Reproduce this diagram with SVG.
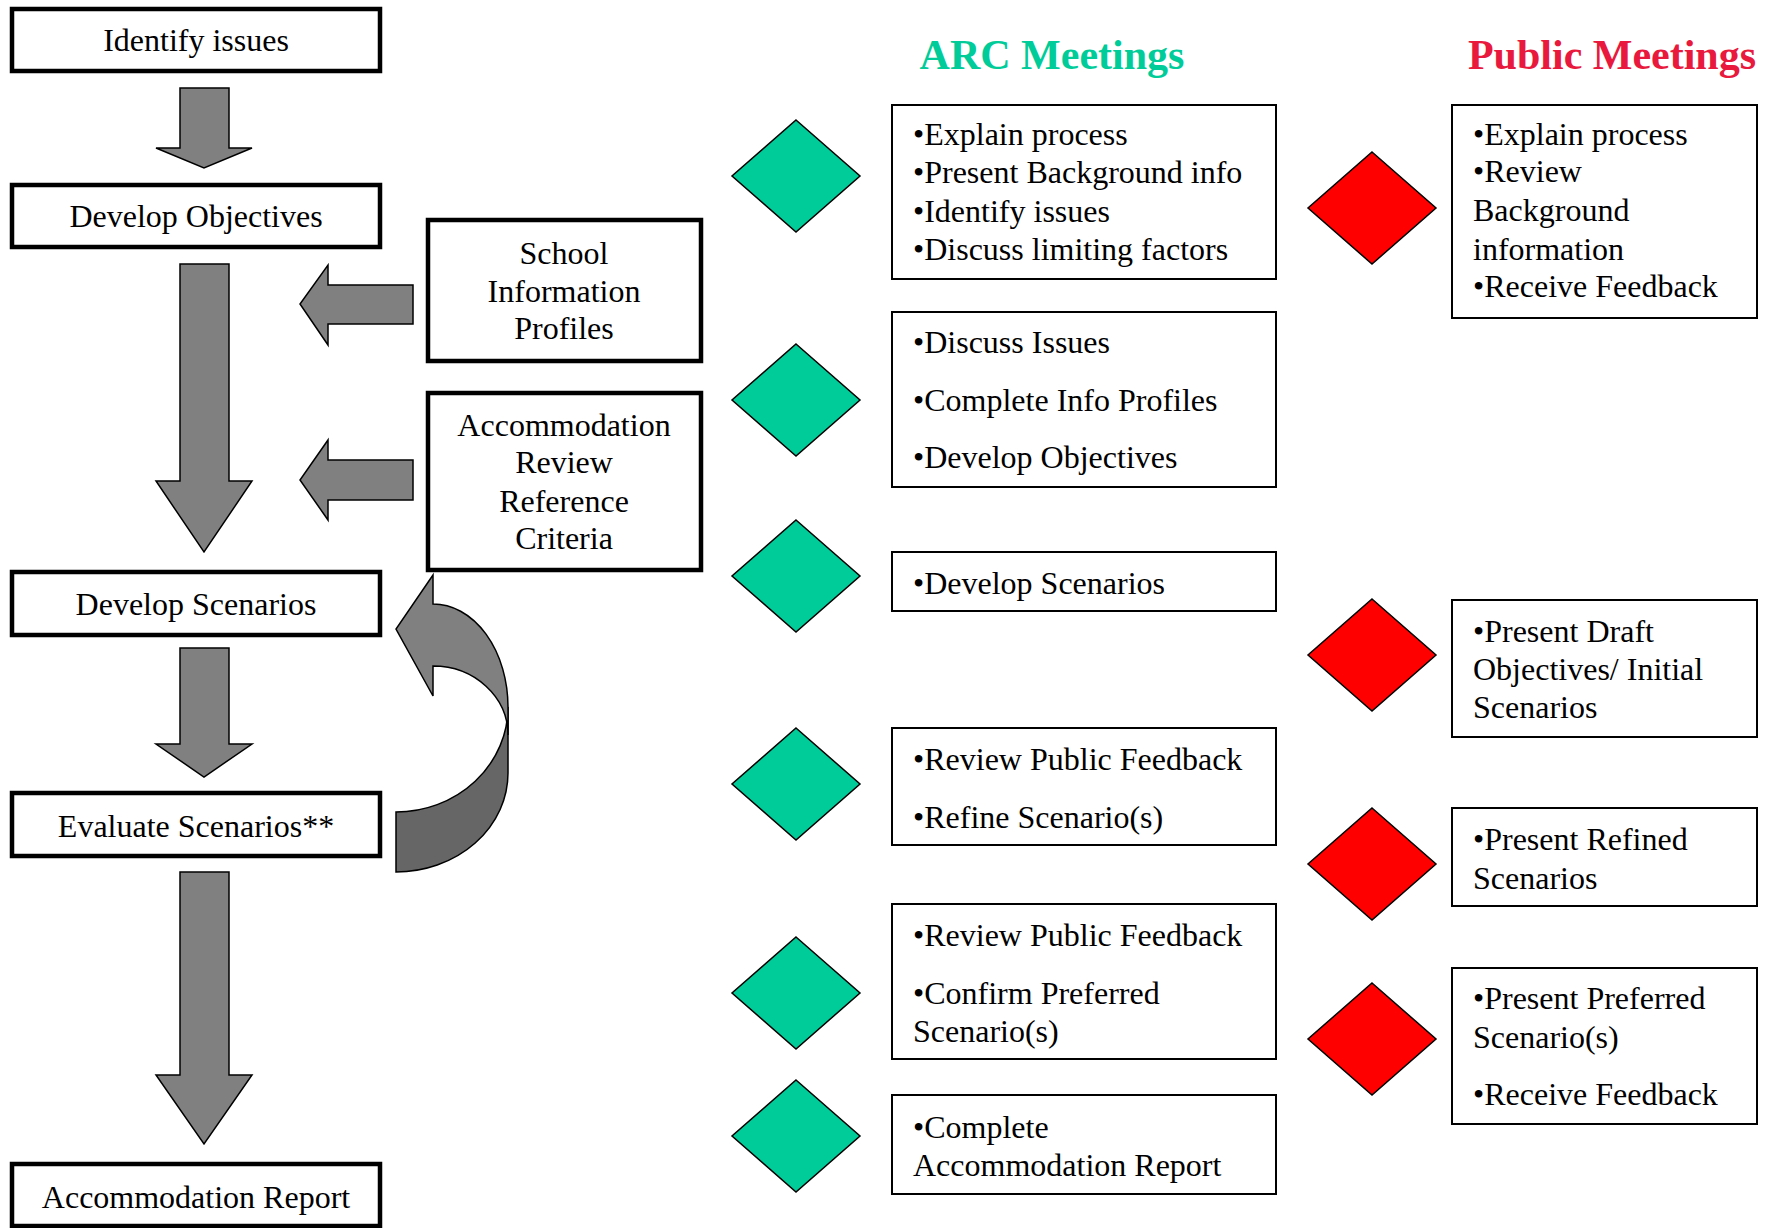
<svg xmlns="http://www.w3.org/2000/svg" width="1769" height="1228" viewBox="0 0 1769 1228">
<style>
  .lbox { fill: #fff; stroke: #000; stroke-width: 4.5; }
  .rbox { fill: #fff; stroke: #000; stroke-width: 2; }
  .t { font-family: "Liberation Serif", "Times New Roman", serif; font-size: 32px; fill: #000; }
  .c { text-anchor: middle; }
  .arrow { fill: #808080; stroke: #000; stroke-width: 1.5; stroke-linejoin: miter; }
  .dark { fill: #666666; stroke: #000; stroke-width: 1.5; }
  .green { fill: #00CC99; stroke: #000; stroke-width: 1.5; }
  .red { fill: #FF0000; stroke: #000; stroke-width: 1.5; }
  .title { font-family: "Liberation Serif", "Times New Roman", serif; font-size: 42px; font-weight: bold; text-anchor: middle; }
</style>
<rect width="1769" height="1228" fill="#fff"/>

<!-- Connectors -->
<g id="connectors">
  <path class="arrow" d="M180,88 H229 V148 H252 L204,168 L156,148 H180 Z"/>
  <path class="arrow" d="M180,264 H229 V481 H252 L204,552 L156,481 H180 Z"/>
  <path class="arrow" d="M180,648 H229 V744 H252 L204,777 L156,744 H180 Z"/>
  <path class="arrow" d="M180,872 H229 V1075 H252 L204,1144 L156,1075 H180 Z"/>
  <path class="arrow" d="M413,285 V324 H328 V345 L300,304 L328,265 V285 Z"/>
  <path class="arrow" d="M413,460 V500 H328 V520 L300,480 L328,440 V460 Z"/>
  <path class="dark" d="M396,812 A112,105 0 0 0 508,707 L508,773 A112,99 0 0 1 396,872 Z"/>
  <path class="arrow" d="M433,575 L396,629 L433,696 L433,666 A75,69 0 0 1 508,735 L508,707 A75,103 0 0 0 433,604 Z"/>
</g>

<!-- Left flow -->
<g id="identify-issues">
  <rect class="lbox" x="12" y="9" width="368" height="62"/>
  <text class="t c" x="196" y="51">Identify issues</text>
</g>
<g id="develop-objectives">
  <rect class="lbox" x="12" y="185" width="368" height="62"/>
  <text class="t c" x="196" y="227">Develop Objectives</text>
</g>
<g id="develop-scenarios">
  <rect class="lbox" x="12" y="572" width="368" height="63"/>
  <text class="t c" x="196" y="615">Develop Scenarios</text>
</g>
<g id="evaluate-scenarios">
  <rect class="lbox" x="12" y="793" width="368" height="63"/>
  <text class="t c" x="196" y="837">Evaluate Scenarios**</text>
</g>
<g id="accommodation-report">
  <rect class="lbox" x="12" y="1164" width="368" height="62"/>
  <text class="t c" x="196" y="1208">Accommodation Report</text>
</g>
<g id="school-info">
  <rect class="lbox" x="428" y="220" width="273" height="141"/>
  <text class="t c" x="564" y="264">School</text>
  <text class="t c" x="564" y="302">Information</text>
  <text class="t c" x="564" y="339">Profiles</text>
</g>
<g id="arrc">
  <rect class="lbox" x="428" y="393" width="273" height="177"/>
  <text class="t c" x="564" y="436">Accommodation</text>
  <text class="t c" x="564" y="473">Review</text>
  <text class="t c" x="564" y="512">Reference</text>
  <text class="t c" x="564" y="549">Criteria</text>
</g>

<!-- Titles -->
<text class="title" x="1052" y="69" fill="#00CC99">ARC Meetings</text>
<text class="title" x="1612" y="69" fill="#E8193C">Public Meetings</text>

<!-- ARC meetings -->
<g id="arc-1">
  <path class="green" d="M796,120 L860,176 L796,232 L732,176 Z"/>
  <rect class="rbox" x="892" y="105" width="384" height="174"/>
  <text class="t" x="913" y="145">•Explain process</text>
  <text class="t" x="913" y="183">•Present Background info</text>
  <text class="t" x="913" y="222">•Identify issues</text>
  <text class="t" x="913" y="260">•Discuss limiting factors</text>
</g>
<g id="arc-2">
  <path class="green" d="M796,344 L860,400 L796,456 L732,400 Z"/>
  <rect class="rbox" x="892" y="312" width="384" height="175"/>
  <text class="t" x="913" y="353">•Discuss Issues</text>
  <text class="t" x="913" y="411">•Complete Info Profiles</text>
  <text class="t" x="913" y="468">•Develop Objectives</text>
</g>
<g id="arc-3">
  <path class="green" d="M796,520 L860,576 L796,632 L732,576 Z"/>
  <rect class="rbox" x="892" y="552" width="384" height="59"/>
  <text class="t" x="913" y="594">•Develop Scenarios</text>
</g>
<g id="arc-4">
  <path class="green" d="M796,728 L860,784 L796,840 L732,784 Z"/>
  <rect class="rbox" x="892" y="728" width="384" height="117"/>
  <text class="t" x="913" y="770">•Review Public Feedback</text>
  <text class="t" x="913" y="828">•Refine Scenario(s)</text>
</g>
<g id="arc-5">
  <path class="green" d="M796,937 L860,993 L796,1049 L732,993 Z"/>
  <rect class="rbox" x="892" y="904" width="384" height="155"/>
  <text class="t" x="913" y="946">•Review Public Feedback</text>
  <text class="t" x="913" y="1004">•Confirm Preferred</text>
  <text class="t" x="913" y="1042">Scenario(s)</text>
</g>
<g id="arc-6">
  <path class="green" d="M796,1080 L860,1136 L796,1192 L732,1136 Z"/>
  <rect class="rbox" x="892" y="1095" width="384" height="99"/>
  <text class="t" x="913" y="1138">•Complete</text>
  <text class="t" x="913" y="1176">Accommodation Report</text>
</g>

<!-- Public meetings -->
<g id="public-1">
  <path class="red" d="M1372,152 L1436,208 L1372,264 L1308,208 Z"/>
  <rect class="rbox" x="1452" y="105" width="305" height="213"/>
  <text class="t" x="1473" y="145">•Explain process</text>
  <text class="t" x="1473" y="182">•Review</text>
  <text class="t" x="1473" y="221">Background</text>
  <text class="t" x="1473" y="260">information</text>
  <text class="t" x="1473" y="297">•Receive Feedback</text>
</g>
<g id="public-2">
  <path class="red" d="M1372,599 L1436,655 L1372,711 L1308,655 Z"/>
  <rect class="rbox" x="1452" y="600" width="305" height="137"/>
  <text class="t" x="1473" y="642">•Present Draft</text>
  <text class="t" x="1473" y="680">Objectives/ Initial</text>
  <text class="t" x="1473" y="718">Scenarios</text>
</g>
<g id="public-3">
  <path class="red" d="M1372,808 L1436,864 L1372,920 L1308,864 Z"/>
  <rect class="rbox" x="1452" y="808" width="305" height="98"/>
  <text class="t" x="1473" y="850">•Present Refined</text>
  <text class="t" x="1473" y="889">Scenarios</text>
</g>
<g id="public-4">
  <path class="red" d="M1372,983 L1436,1039 L1372,1095 L1308,1039 Z"/>
  <rect class="rbox" x="1452" y="968" width="305" height="156"/>
  <text class="t" x="1473" y="1009">•Present Preferred</text>
  <text class="t" x="1473" y="1048">Scenario(s)</text>
  <text class="t" x="1473" y="1105">•Receive Feedback</text>
</g>
</svg>
